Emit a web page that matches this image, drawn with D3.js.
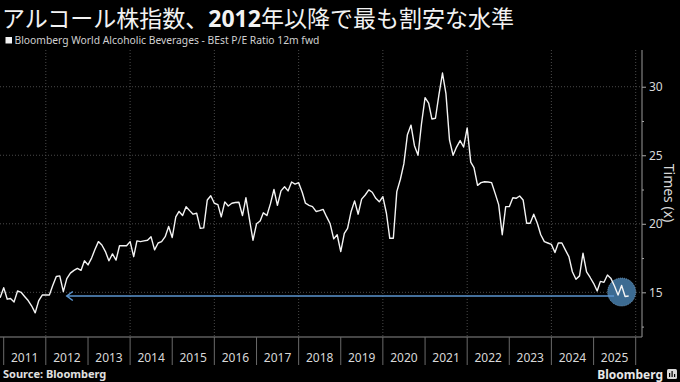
<!DOCTYPE html>
<html>
<head>
<meta charset="utf-8">
<script src="https://cdn.jsdelivr.net/npm/d3@7"></script>
<style>
  html, body { margin: 0; padding: 0; background: #000; }
  svg { display: block; }
</style>
</head>
<body>
<svg id="chart" width="680" height="382"></svg>
<script>

// monthly series, first value is Dec 2010
var startYear = 2010;
var startMonth = 11;
var peValues = [
  14.6, 15.34, 14.5, 14.55, 14.3, 15.1, 15.0, 14.7, 14.4, 14.0,
  13.5, 14.4, 14.8, 14.8, 14.8, 15.5, 16.15, 16.2, 15.05, 16.0,
  16.4, 16.6, 16.75, 16.6, 17.3, 17.0, 17.5, 18.1, 18.7, 18.45,
  17.97, 17.3, 17.8, 17.35, 18.4, 18.4, 18.4, 18.7, 17.6, 18.75,
  18.7, 18.75, 18.8, 19.06, 18.1, 18.6, 18.7, 19.06, 19.8, 19.0,
  20.5, 20.9, 20.6, 21.25, 20.96, 20.7, 20.77, 19.67, 19.7, 21.74,
  22.05, 21.5, 21.4, 20.5, 21.6, 21.3, 21.5, 21.55, 21.57, 20.6,
  21.9, 20.3, 18.8, 20.0, 20.2, 20.8, 20.6, 21.45, 22.5, 21.35,
  22.4, 22.7, 22.4, 23.05, 22.9, 23.0, 22.3, 21.5, 21.35, 21.25,
  20.9, 20.96, 21.05, 20.5, 20.0, 18.9, 19.2, 17.97, 19.3, 19.67,
  20.9, 21.67, 20.7, 21.8, 22.1, 22.47, 22.3, 21.86, 21.6, 21.98,
  20.77, 18.94, 18.94, 22.35, 23.25, 24.37, 26.5, 27.2, 25.7, 25.0,
  27.3, 29.2, 28.8, 27.65, 27.7, 29.4, 31.0, 29.5, 26.1, 25.0,
  25.6, 26.07, 25.6, 27.0, 24.5, 24.1, 22.8, 23.0, 23.07, 23.05,
  23.0, 22.2, 21.4, 19.2, 21.25, 21.25, 21.9, 21.86, 22.03, 21.74,
  20.04, 20.04, 20.7, 20.04, 19.2, 18.7, 18.6, 18.5, 17.9, 18.6,
  18.6, 18.1, 17.6, 16.5, 15.95, 16.2, 17.85, 16.5, 16.1, 15.66,
  15.1, 15.8, 15.73, 16.26, 16.0, 15.46, 14.8, 15.5, 14.7, 14.73
];

var yearLabels = [2011, 2012, 2013, 2014, 2015, 2016, 2017, 2018,
                  2019, 2020, 2021, 2022, 2023, 2024, 2025];
var gridYears = [2012, 2014, 2016, 2018, 2020, 2022, 2024, 2026];
var yTicks = [15, 20, 25, 30];
var yMinorTicks = [12.5, 17.5, 22.5, 27.5];

var titleText = ['アルコール株指数、', '2012', '年以降で最も割安な水準'];
var legendText = 'Bloomberg World Alcoholic Beverages - BEst P/E Ratio 12m fwd';
var yAxisTitle = 'Times (x)';
var sourceText = 'Source: Bloomberg';

// arrow back to the 2012 level, and the circle on the latest reading
var arrowFrom = new Date(2025, 6, 15);
var arrowTo = new Date(2012, 6, 1);
var circleDate = new Date(2025, 8, 1);

var svg = d3.select('#chart');
var margin = { top: 50, right: 642, bottom: 337, left: 0 };

var data = peValues.map(function(v, i) {
  return { date: new Date(startYear, startMonth + i, 1), value: v };
});

var x = d3.scaleTime()
  .domain([new Date(2011, 0, 1), new Date(2026, 0, 1)])
  .range([3.7, 635.7]);

var y = d3.scaleLinear()
  .domain([11.74, 32.68])
  .range([margin.bottom, margin.top]);

// title
var title = svg.append('text')
  .attr('x', 2)
  .attr('y', 27)
  .style('font-family', '"Noto Sans CJK JP", "Noto Sans", sans-serif')
  .style('font-size', '23px')
  .style('fill', '#f2f2f2');
title.append('tspan').text(titleText[0]);
title.append('tspan').style('font-weight', 'bold').style('font-family', '"Noto Sans", sans-serif').text(titleText[1]);
title.append('tspan').text(titleText[2]);

// legend
svg.append('rect')
  .attr('x', 5.5).attr('y', 37)
  .attr('width', 6.5).attr('height', 6.5)
  .style('fill', '#f2f2f2');
svg.append('text')
  .attr('x', 14.5)
  .attr('y', 44)
  .style('font-family', '"Noto Sans", sans-serif')
  .style('font-size', '10.3px')
  .style('fill', '#d0d0d0')
  .text(legendText);

// grid
svg.append('g')
  .selectAll('line')
  .data(yTicks)
  .enter()
  .append('line')
  .attr('x1', 0).attr('x2', margin.right)
  .attr('y1', d => y(d)).attr('y2', d => y(d))
  .style('stroke', '#4a4a4a')
  .style('stroke-dasharray', '1,2');

svg.append('g')
  .selectAll('line')
  .data(gridYears)
  .enter()
  .append('line')
  .attr('x1', d => x(new Date(d, 0, 1))).attr('x2', d => x(new Date(d, 0, 1)))
  .attr('y1', margin.top).attr('y2', margin.bottom)
  .style('stroke', '#4a4a4a')
  .style('stroke-dasharray', '1,2');

// right axis
let yAxis = d3.axisRight(y).tickValues(yTicks).tickSize(4).tickPadding(3);
let gy = svg.append('g')
  .attr('transform', `translate(${margin.right},0)`)
  .call(yAxis);
gy.select('.domain').remove();
gy.selectAll('line').style('stroke', '#aaa');
gy.selectAll('text')
  .style('fill', '#d8d8d8')
  .style('font-family', '"Noto Sans", sans-serif')
  .style('font-size', '12px');

svg.append('g')
  .attr('transform', `translate(${margin.right},0)`)
  .call(d3.axisRight(y).tickValues(yMinorTicks).tickSize(2).tickFormat(''))
  .call(g => g.select('.domain').remove())
  .selectAll('line').style('stroke', '#aaa');

svg.append('line')
  .attr('x1', margin.right).attr('x2', margin.right)
  .attr('y1', margin.top).attr('y2', margin.bottom)
  .style('stroke', '#9a9a9a');

svg.append('text')
  .attr('transform', `translate(664,193) rotate(90)`)
  .attr('text-anchor', 'middle')
  .style('font-family', '"Noto Sans", sans-serif')
  .style('font-size', '14px')
  .style('fill', '#d8d8d8')
  .text(yAxisTitle);

// bottom axis
svg.append('line')
  .attr('x1', 0).attr('x2', margin.right)
  .attr('y1', margin.bottom).attr('y2', margin.bottom)
  .style('stroke', '#8a8a8a');

let sepYears = yearLabels.concat([2026]);
svg.append('g')
  .selectAll('line')
  .data(sepYears)
  .enter()
  .append('line')
  .attr('x1', d => x(new Date(d, 0, 1))).attr('x2', d => x(new Date(d, 0, 1)))
  .attr('y1', margin.bottom).attr('y2', 365)
  .style('stroke', '#6a6a6a');

svg.append('g')
  .selectAll('text')
  .data(yearLabels)
  .enter()
  .append('text')
  .attr('x', d => x(new Date(d, 6, 2)))
  .attr('y', 362)
  .attr('text-anchor', 'middle')
  .style('font-family', '"Noto Sans", sans-serif')
  .style('font-size', '12px')
  .style('fill', '#d8d8d8')
  .text(d => d);

// annotation
svg.append('circle')
  .attr('cx', x(circleDate))
  .attr('cy', y(peValues[peValues.length - 1]) - 4)
  .attr('r', 14)
  .style('fill', '#3c6b92')
  .style('stroke', '#7aa3c8')
  .style('stroke-width', 0.8)
  .style('stroke-dasharray', '1,1');

let lastY = y(peValues[peValues.length - 1]);
let tipX = x(arrowTo);
svg.append('line')
  .attr('x1', x(arrowFrom) - 2).attr('x2', tipX)
  .attr('y1', lastY).attr('y2', lastY)
  .style('stroke', '#5b95cf')
  .style('stroke-width', 1.5);
svg.append('path')
  .attr('d', `M${tipX + 6},${lastY - 4.5} L${tipX},${lastY} L${tipX + 6},${lastY + 4.5}`)
  .style('fill', 'none')
  .style('stroke', '#5b95cf')
  .style('stroke-width', 1.5);

// the series
let line = d3.line()
  .x(d => x(d.date))
  .y(d => y(d.value));

svg.append('path')
  .datum(data)
  .attr('d', line)
  .style('fill', 'none')
  .style('stroke', '#f4f4f4')
  .style('stroke-width', 1.4)
  .style('stroke-linejoin', 'round');

// footer
svg.append('text')
  .attr('x', 3)
  .attr('y', 378)
  .style('font-family', '"Noto Sans", sans-serif')
  .style('font-size', '11px')
  .style('font-weight', 'bold')
  .style('fill', '#e0e0e0')
  .text(sourceText);

svg.append('text')
  .attr('x', 663)
  .attr('y', 379)
  .attr('text-anchor', 'end')
  .style('font-family', '"Noto Sans", sans-serif')
  .style('font-size', '12px')
  .style('font-weight', 'bold')
  .style('fill', '#e8e8e8')
  .text('Bloomberg');

// small logo mark next to the wordmark
let logo = svg.append('g').attr('transform', 'translate(667,369)');
logo.append('rect').attr('width', 10).attr('height', 10).attr('rx', 1.5).style('fill', '#d8d8d8');
logo.selectAll('.bar')
  .data([[2, 4], [4.5, 2], [7, 5]])
  .enter()
  .append('rect')
  .attr('x', d => d[0]).attr('y', d => d[1])
  .attr('width', 1.2).attr('height', d => 8 - d[1])
  .style('fill', '#000');

</script>
</body>
</html>
